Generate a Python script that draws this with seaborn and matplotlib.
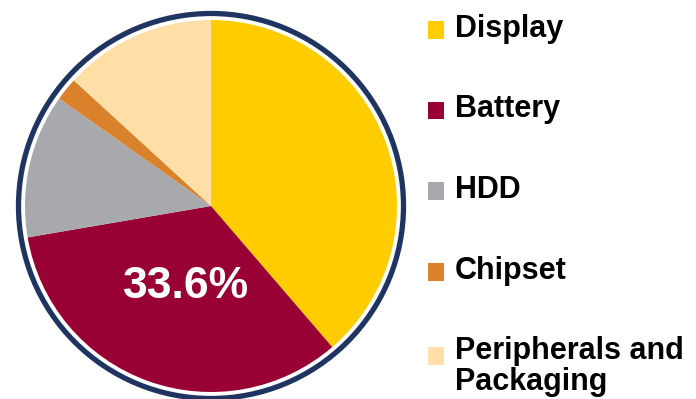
import matplotlib
matplotlib.use("Agg")
import matplotlib.pyplot as plt
import seaborn as sns
from matplotlib.patches import Circle, Rectangle
from matplotlib.legend_handler import HandlerPatch

categories = ["Display", "Battery", "HDD", "Chipset", "Peripherals and\nPackaging"]
shares = [38.7, 33.6, 12.5, 2.0, 13.2]
colors = ["#FFCC00", "#990033", "#A7A9AC", "#D9822B", "#FFDFA6"]
labelled = "Battery"

sns.set_theme(style="white")
plt.rcParams["font.family"] = ["Liberation Sans", "DejaVu Sans"]

fig = plt.figure(figsize=(6.96, 3.99), dpi=100)
ax = fig.add_axes([11 / 696, -7 / 399, 400 / 696, 400 / 399])

wedges, _ = ax.pie(shares, colors=sns.color_palette(colors), startangle=90,
                   counterclock=False, radius=1.0,
                   wedgeprops=dict(linewidth=0))
ring = Circle((0, 0), 1.035, fill=False, edgecolor="#1F3461", linewidth=3.8)
ax.add_patch(ring)
ax.set_xlim(-200 / 186, 200 / 186)
ax.set_ylim(-200 / 186, 200 / 186)
ax.set_aspect("equal")
ax.axis("off")

idx = categories.index(labelled)
ax.text(-25 / 186, -80 / 186, f"{shares[idx]:.1f}%", color="white",
        fontsize=32, fontweight="bold", ha="center", va="center")

extra_lines = {w: lab.count("\n") for w, lab in zip(wedges, categories)}


def square(legend, orig_handle, xdescent, ydescent, width, height, fontsize):
    shift = -3.0 + extra_lines.get(orig_handle, 0) * 0.5 * fontsize * 1.0
    return Rectangle((-xdescent, -ydescent + shift), width, height)


handler = HandlerPatch(patch_func=square)
leg = fig.legend(wedges, categories, loc="upper left",
                 bbox_to_anchor=(428 / 696, 1 - 13.5 / 399),
                 frameon=False, prop=dict(weight="bold", size=22),
                 handlelength=0.52, handleheight=0.52, handletextpad=0.36,
                 labelspacing=1.66, borderpad=0, borderaxespad=0,
                 handler_map={w: handler for w in wedges})
for t in leg.get_texts():
    t.set_linespacing(1.02)
    t.set_color("black")

fig.savefig("out.png", dpi=100)
